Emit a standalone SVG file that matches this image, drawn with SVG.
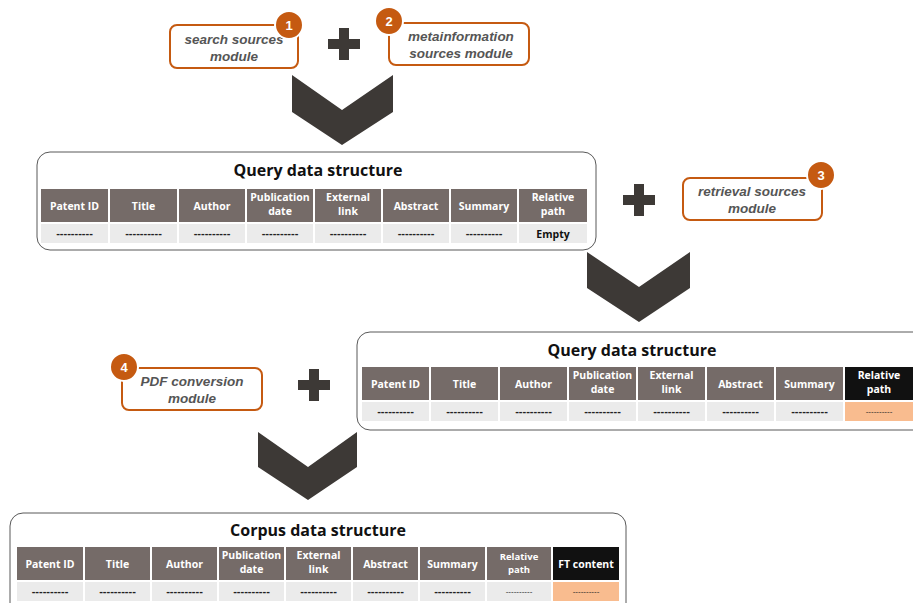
<svg xmlns="http://www.w3.org/2000/svg" width="913" height="603" viewBox="0 0 913 603">
<style>
.mod{fill:#fff;stroke:#c55a11;stroke-width:2}
.mt{font-family:"Liberation Sans",Arial,sans-serif;font-weight:bold;font-style:italic;font-size:13.5px;fill:#555;text-anchor:middle}
.badge{fill:#c55a11;stroke:#fff;stroke-width:2}
.bt{font-family:"Liberation Sans",Arial,sans-serif;font-weight:bold;font-size:13px;fill:#fff;text-anchor:middle}
.plus{fill:#3d3936}
.chev{fill:#3d3936}
.frame{fill:#fff;stroke:#595959;stroke-width:1}
.title{font-family:"Open Sans","Liberation Sans",sans-serif;font-weight:bold;font-size:16px;fill:#111;text-anchor:middle}
.hd{fill:#756b68}
.hdk{fill:#111}
.ht{font-family:"Open Sans","Liberation Sans",sans-serif;font-weight:bold;font-size:10.5px;fill:#fff;text-anchor:middle}
.hts{font-family:"Open Sans","Liberation Sans",sans-serif;font-weight:bold;font-size:9.5px;fill:#fff;text-anchor:middle}
.dc{fill:#ebebeb}
.dco{fill:#f9bc8f}
.dt{font-family:"Liberation Sans",Arial,sans-serif;font-weight:bold;font-size:11px;fill:#222;text-anchor:middle}
.dts{font-family:"Liberation Sans",Arial,sans-serif;font-size:8px;fill:#222;text-anchor:middle}
.et{font-family:"Open Sans","Liberation Sans",sans-serif;font-weight:bold;font-size:10.5px;fill:#111;text-anchor:middle}
</style>
<defs>
<path id="plusShape" d="M-5,-16 H5 V-5 H16 V5 H5 V16 H-5 V5 H-16 V-5 H-5 Z"/>
</defs>

<g id="connectors">
<polygon class="chev" points="292,75 342,110 393,75 393,112 342,145 292,112"/>
<polygon class="chev" points="587,252 639,287 690,252 690,288 639,322 587,288"/>
<polygon class="chev" points="258,432 308,467 357,432 357,467 308,500 258,467"/>
<use href="#plusShape" class="plus" x="344" y="44"/>
<use href="#plusShape" class="plus" x="639" y="200"/>
<use href="#plusShape" class="plus" x="314" y="385"/>
</g>

<g id="search-module">
<rect class="mod" x="170" y="25" width="128" height="43" rx="7"/>
<text class="mt" x="234" y="44">search sources</text>
<text class="mt" x="234" y="61">module</text>
<circle class="badge" cx="289" cy="25" r="14"/>
<text class="bt" x="289" y="30">1</text>
</g>

<g id="metainfo-module">
<rect class="mod" x="389" y="23" width="140" height="42" rx="7"/>
<text class="mt" x="461" y="41">metainformation</text>
<text class="mt" x="461" y="58">sources module</text>
<circle class="badge" cx="389" cy="21" r="14"/>
<text class="bt" x="389" y="26">2</text>
</g>

<g id="retrieval-module">
<rect class="mod" x="683" y="178" width="139" height="42" rx="7"/>
<text class="mt" x="752" y="196">retrieval sources</text>
<text class="mt" x="752" y="213">module</text>
<circle class="badge" cx="821" cy="175" r="14"/>
<text class="bt" x="821" y="180">3</text>
</g>

<g id="pdf-module">
<rect class="mod" x="122" y="368" width="140" height="42" rx="7"/>
<text class="mt" x="192" y="386">PDF conversion</text>
<text class="mt" x="192" y="403">module</text>
<circle class="badge" cx="124" cy="367" r="14"/>
<text class="bt" x="124" y="372">4</text>
</g>

<g id="query-table-1">
<rect class="frame" x="37" y="152" width="559" height="98" rx="13"/>
<text class="title" x="318" y="176">Query data structure</text>
<rect class="hd" x="41" y="189" width="67" height="33"/>
<rect class="hd" x="110" y="189" width="67" height="33"/>
<rect class="hd" x="179" y="189" width="66" height="33"/>
<rect class="hd" x="247" y="189" width="66" height="33"/>
<rect class="hd" x="315" y="189" width="66" height="33"/>
<rect class="hd" x="383" y="189" width="66" height="33"/>
<rect class="hd" x="451" y="189" width="66" height="33"/>
<rect class="hd" x="519" y="189" width="68" height="33"/>
<text class="ht" x="74.5" y="209.5">Patent ID</text>
<text class="ht" x="143.5" y="209.5">Title</text>
<text class="ht" x="212" y="209.5">Author</text>
<text class="ht" x="280" y="201">Publication</text>
<text class="ht" x="280" y="215">date</text>
<text class="ht" x="348" y="201">External</text>
<text class="ht" x="348" y="215">link</text>
<text class="ht" x="416" y="209.5">Abstract</text>
<text class="ht" x="484" y="209.5">Summary</text>
<text class="ht" x="553" y="201">Relative</text>
<text class="ht" x="553" y="215">path</text>
<rect class="dc" x="41" y="224" width="67" height="19"/>
<rect class="dc" x="110" y="224" width="67" height="19"/>
<rect class="dc" x="179" y="224" width="66" height="19"/>
<rect class="dc" x="247" y="224" width="66" height="19"/>
<rect class="dc" x="315" y="224" width="66" height="19"/>
<rect class="dc" x="383" y="224" width="66" height="19"/>
<rect class="dc" x="451" y="224" width="66" height="19"/>
<rect class="dc" x="519" y="224" width="68" height="19"/>
<text class="dt" x="74.5" y="237">----------</text>
<text class="dt" x="143.5" y="237">----------</text>
<text class="dt" x="212" y="237">----------</text>
<text class="dt" x="280" y="237">----------</text>
<text class="dt" x="348" y="237">----------</text>
<text class="dt" x="416" y="237">----------</text>
<text class="dt" x="484" y="237">----------</text>
<text class="et" x="553" y="237.5">Empty</text>
</g>

<g id="query-table-2">
<rect class="frame" x="357" y="332" width="575" height="98" rx="13"/>
<text class="title" x="632" y="356">Query data structure</text>
<rect class="hd" x="362" y="367" width="67" height="33"/>
<rect class="hd" x="431" y="367" width="67" height="33"/>
<rect class="hd" x="500" y="367" width="67" height="33"/>
<rect class="hd" x="569" y="367" width="67" height="33"/>
<rect class="hd" x="638" y="367" width="67" height="33"/>
<rect class="hd" x="707" y="367" width="67" height="33"/>
<rect class="hd" x="776" y="367" width="67" height="33"/>
<rect class="hdk" x="845" y="367" width="68" height="33"/>
<text class="ht" x="395.5" y="387.5">Patent ID</text>
<text class="ht" x="464.5" y="387.5">Title</text>
<text class="ht" x="533.5" y="387.5">Author</text>
<text class="ht" x="602.5" y="379">Publication</text>
<text class="ht" x="602.5" y="393">date</text>
<text class="ht" x="671.5" y="379">External</text>
<text class="ht" x="671.5" y="393">link</text>
<text class="ht" x="740.5" y="387.5">Abstract</text>
<text class="ht" x="809.5" y="387.5">Summary</text>
<text class="ht" x="879" y="379">Relative</text>
<text class="ht" x="879" y="393">path</text>
<rect class="dc" x="362" y="402" width="67" height="19"/>
<rect class="dc" x="431" y="402" width="67" height="19"/>
<rect class="dc" x="500" y="402" width="67" height="19"/>
<rect class="dc" x="569" y="402" width="67" height="19"/>
<rect class="dc" x="638" y="402" width="67" height="19"/>
<rect class="dc" x="707" y="402" width="67" height="19"/>
<rect class="dc" x="776" y="402" width="67" height="19"/>
<rect class="dco" x="845" y="402" width="68" height="19"/>
<text class="dt" x="395.5" y="415">----------</text>
<text class="dt" x="464.5" y="415">----------</text>
<text class="dt" x="533.5" y="415">----------</text>
<text class="dt" x="602.5" y="415">----------</text>
<text class="dt" x="671.5" y="415">----------</text>
<text class="dt" x="740.5" y="415">----------</text>
<text class="dt" x="809.5" y="415">----------</text>
<text class="dts" x="879" y="414">----------</text>
</g>

<g id="corpus-table">
<rect class="frame" x="10" y="513" width="616" height="110" rx="13"/>
<text class="title" x="318" y="536">Corpus data structure</text>
<rect class="hd" x="17" y="547" width="66" height="33"/>
<rect class="hd" x="85" y="547" width="65" height="33"/>
<rect class="hd" x="152" y="547" width="65" height="33"/>
<rect class="hd" x="219" y="547" width="65" height="33"/>
<rect class="hd" x="286" y="547" width="65" height="33"/>
<rect class="hd" x="353" y="547" width="65" height="33"/>
<rect class="hd" x="420" y="547" width="65" height="33"/>
<rect class="hd" x="487" y="547" width="64" height="33"/>
<rect class="hdk" x="553" y="547" width="66" height="33"/>
<text class="ht" x="50" y="567.5">Patent ID</text>
<text class="ht" x="117.5" y="567.5">Title</text>
<text class="ht" x="184.5" y="567.5">Author</text>
<text class="ht" x="251.5" y="559">Publication</text>
<text class="ht" x="251.5" y="573">date</text>
<text class="ht" x="318.5" y="559">External</text>
<text class="ht" x="318.5" y="573">link</text>
<text class="ht" x="385.5" y="567.5">Abstract</text>
<text class="ht" x="452.5" y="567.5">Summary</text>
<text class="hts" x="519" y="560">Relative</text>
<text class="hts" x="519" y="573">path</text>
<text class="ht" x="586" y="567.5">FT content</text>
<rect class="dc" x="17" y="582" width="66" height="19"/>
<rect class="dc" x="85" y="582" width="65" height="19"/>
<rect class="dc" x="152" y="582" width="65" height="19"/>
<rect class="dc" x="219" y="582" width="65" height="19"/>
<rect class="dc" x="286" y="582" width="65" height="19"/>
<rect class="dc" x="353" y="582" width="65" height="19"/>
<rect class="dc" x="420" y="582" width="65" height="19"/>
<rect class="dc" x="487" y="582" width="64" height="19"/>
<rect class="dco" x="553" y="582" width="66" height="19"/>
<text class="dt" x="50" y="595">----------</text>
<text class="dt" x="117.5" y="595">----------</text>
<text class="dt" x="184.5" y="595">----------</text>
<text class="dt" x="251.5" y="595">----------</text>
<text class="dt" x="318.5" y="595">----------</text>
<text class="dt" x="385.5" y="595">----------</text>
<text class="dt" x="452.5" y="595">----------</text>
<text class="dts" x="519" y="594">----------</text>
<text class="dts" x="586" y="594">----------</text>
</g>
</svg>
